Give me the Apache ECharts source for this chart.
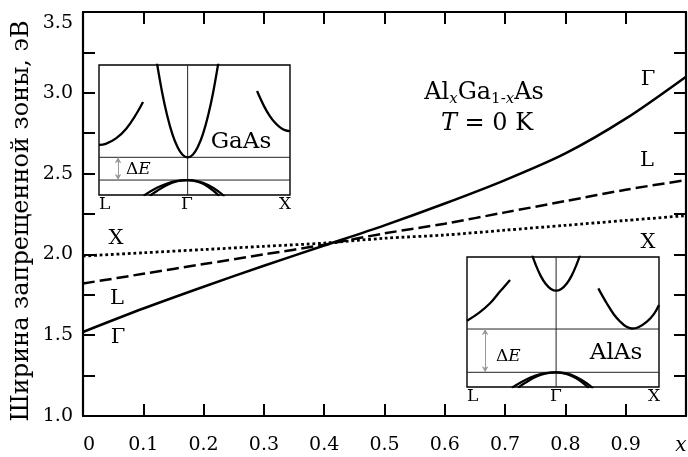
<!DOCTYPE html>
<html>
<head>
<meta charset="utf-8">
<script src="https://cdn.jsdelivr.net/npm/echarts@6/dist/echarts.min.js"></script>
<style>html,body{margin:0;padding:0;background:#fff}#c{width:688px;height:457px}</style>
</head>
<body>
<div id="c"></div>
<script>
// ---- main chart data ----
var xValues = [0, 0.1, 0.2, 0.3, 0.4, 0.5, 0.6, 0.7, 0.8, 0.9, 1.0];
var gammaGap = [1.52, 1.665, 1.80, 1.93, 2.055, 2.18, 2.315, 2.46, 2.625, 2.84, 3.10];
var lGap     = [1.82, 1.88, 1.94, 2.00, 2.06, 2.13, 2.19, 2.26, 2.33, 2.40, 2.46];
var xGap     = [1.99, 2.01, 2.03, 2.05, 2.07, 2.10, 2.12, 2.15, 2.18, 2.21, 2.24];
var yTickLabels = ['1.0', '1.5', '2.0', '2.5', '3.0', '3.5'];
var xTickLabels = ['0', '0.1', '0.2', '0.3', '0.4', '0.5', '0.6', '0.7', '0.8', '0.9', 'x'];
var yAxisTitle = 'Ширина запрещенной зоны, эВ';

// ---- inset GaAs band sketch: [k, E] ----
var gaasGamma = [[-0.31,10.64],[-0.25,7.93],[-0.2,6.12],[-0.15,4.71],[-0.1,3.71],[-0.05,3.10],[0,2.9],[0.05,3.10],[0.1,3.71],[0.15,4.71],[0.2,6.12],[0.25,7.93],[0.31,10.64]];
var gaasL = [[-0.866,3.85],[-0.8,3.93],[-0.7,4.35],[-0.6,5.1],[-0.5,6.25],[-0.436,7.15]];
var gaasX = [[0.678,8.0],[0.75,6.78],[0.8,6.11],[0.85,5.59],[0.9,5.22],[0.95,4.99],[1.0,4.92]];
var gaasHH = [[-0.43,-0.05],[-0.3,0.55],[-0.2,0.885],[-0.1,1.08],[0,1.15],[0.1,1.053],[0.2,0.764],[0.3,0.28],[0.36,-0.12]];
var gaasLH = [[-0.37,-0.06],[-0.3,0.31],[-0.2,0.78],[-0.1,1.06],[0,1.15],[0.1,1.02],[0.2,0.64],[0.31,-0.08]];
var gaasLevels = [1.15, 2.9];

// ---- inset AlAs band sketch: [k, E] ----
var alasGamma = [[-0.24,10.33],[-0.2,9.44],[-0.15,8.55],[-0.1,7.92],[-0.05,7.54],[0,7.41],[0.05,7.54],[0.1,7.92],[0.15,8.55],[0.2,9.44],[0.24,10.33]];
var alasL = [[-0.866,5.1],[-0.75,5.7],[-0.642,6.44],[-0.55,7.3],[-0.448,8.23]];
var alasX = [[0.41,7.59],[0.492,6.44],[0.56,5.6],[0.624,5.02],[0.68,4.65],[0.735,4.5],[0.8,4.6],[0.883,5.02],[0.95,5.6],[1.0,6.3]];
var alasHH = [[-0.43,-0.05],[-0.3,0.54],[-0.2,0.87],[-0.1,1.06],[0,1.13],[0.1,1.04],[0.2,0.75],[0.3,0.28],[0.36,-0.12]];
var alasLH = [[-0.37,-0.06],[-0.3,0.32],[-0.2,0.78],[-0.1,1.04],[0,1.13],[0.1,1.01],[0.2,0.65],[0.32,-0.08]];
var alasLevels = [1.13, 4.46];

var kL = -0.866, kX = 1.0;
var FONT = 'DejaVu Serif';

function pairs(xs, ys) { return xs.map(function (x, i) { return [x, ys[i]]; }); }

var chart = echarts.init(document.getElementById('c'), null, {renderer: 'canvas'});

var tickStyle = {show: true, inside: true, length: 12, lineStyle: {color: '#000', width: 2}};
var lineAx = {show: true, onZero: false, lineStyle: {color: '#000', width: 2.2}};

function xLab(v) {
  var i = Math.round(v * 10);
  var t = xTickLabels[i];
  if (t === undefined) return '';
  if (i === 0) return '{z|' + t + '}';
  if (i === 10) return '{it|' + t + '}';
  return t;
}
function yLab(v) {
  var i = Math.round((v - 1) * 4);
  if (i % 2 !== 0) return '';
  var t = yTickLabels[i / 2];
  if (i === 10) return '{top|' + t + '}';
  return t;
}

function insetAxisX(g) { return {gridIndex: g, type: 'value', min: kL, max: kX, show: false}; }
function insetAxisY(g) { return {gridIndex: g, type: 'value', min: 0, max: 10, show: false}; }

function band(idx, data) {
  return {type: 'line', xAxisIndex: idx, yAxisIndex: idx, data: data, smooth: 0.4, showSymbol: false,
    clip: true, silent: true, lineStyle: {color: '#000', width: 2.3}, z: 5};
}
function thin(idx, data) {
  return {type: 'line', xAxisIndex: idx, yAxisIndex: idx, data: data, showSymbol: false,
    clip: true, silent: true, lineStyle: {color: '#222', width: 1}, z: 4};
}
function arrow(idx, k, e0, e1) {
  return {type: 'line', xAxisIndex: idx, yAxisIndex: idx, data: [], silent: true,
    markLine: {silent: true, animation: false, symbol: ['arrow', 'arrow'], symbolSize: [5, 6],
      label: {show: false}, lineStyle: {color: '#999', width: 1, type: 'solid'},
      data: [[{coord: [k, e0]}, {coord: [k, e1]}]]}};
}

var series = [
  {name: 'Γ', type: 'line', xAxisIndex: 0, yAxisIndex: 0, data: pairs(xValues, gammaGap), smooth: 0.3, showSymbol: false,
    lineStyle: {color: '#000', width: 2.5}, z: 3},
  {name: 'L', type: 'line', xAxisIndex: 0, yAxisIndex: 0, data: pairs(xValues, lGap), smooth: 0.3, showSymbol: false,
    lineStyle: {color: '#000', width: 2.5, type: [12, 5]}, z: 3},
  {name: 'X', type: 'line', xAxisIndex: 0, yAxisIndex: 0, data: pairs(xValues, xGap), smooth: 0.3, showSymbol: false,
    lineStyle: {color: '#000', width: 2.8, type: [2.8, 2.8]}, z: 3},
  // GaAs inset (axis index 2)
  thin(2, [[kL, gaasLevels[0]], [kX, gaasLevels[0]]]),
  thin(2, [[kL, gaasLevels[1]], [kX, gaasLevels[1]]]),
  thin(2, [[0, 0], [0, 10]]),
  band(2, gaasGamma), band(2, gaasL), band(2, gaasX), band(2, gaasHH), band(2, gaasLH),
  arrow(2, -0.68, gaasLevels[0], gaasLevels[1]),
  // AlAs inset (axis index 3)
  thin(3, [[kL, alasLevels[0]], [kX, alasLevels[0]]]),
  thin(3, [[kL, alasLevels[1]], [kX, alasLevels[1]]]),
  thin(3, [[0, 0], [0, 10]]),
  band(3, alasGamma), band(3, alasL), band(3, alasX), band(3, alasHH), band(3, alasLH),
  arrow(3, -0.69, alasLevels[0], alasLevels[1])
];

var txt = function (x, y, text, size, align, rich) {
  var s = {text: text, x: x, y: y, fill: '#000', font: size + 'px "' + FONT + '"', align: align || 'center', verticalAlign: 'middle'};
  if (rich) s.rich = rich;
  return {type: 'text', z: 100, style: s};
};
var subRich = {
  n: {fontFamily: FONT, fontSize: 24, lineHeight: 28, verticalAlign: 'middle'},
  s: {fontFamily: FONT, fontSize: 15, lineHeight: 15, verticalAlign: 'bottom'},
  si: {fontFamily: FONT, fontSize: 15, lineHeight: 15, fontStyle: 'italic', verticalAlign: 'bottom'},
  i: {fontFamily: FONT, fontSize: 24, lineHeight: 28, fontStyle: 'italic'}
};
var deRich = {
  d: {fontFamily: FONT, fontSize: 17},
  e: {fontFamily: FONT, fontSize: 17, fontStyle: 'italic'}
};

var gridBase = {outerBoundsMode: 'none', containLabel: false};
function mkGrid(o) { return Object.assign({}, gridBase, o); }

var option = {
  animation: false,
  backgroundColor: '#fff',
  grid: [
    mkGrid({left: 83, top: 12, width: 603, height: 404, show: false}),
    mkGrid({left: 99, top: 65, width: 191, height: 130, show: true, borderColor: '#000', borderWidth: 1.4, backgroundColor: '#fff', z: 1}),
    mkGrid({left: 467, top: 257, width: 192, height: 130, show: true, borderColor: '#000', borderWidth: 1.4, backgroundColor: '#fff', z: 1})
  ],
  xAxis: [
    {gridIndex: 0, type: 'value', min: 0, max: 1, interval: 0.1, position: 'bottom', axisLine: lineAx, axisTick: tickStyle,
      splitLine: {show: false}, axisLabel: {show: true, showMinLabel: true, showMaxLabel: true, margin: 20, color: '#000',
        fontFamily: FONT, fontSize: 19, formatter: xLab,
        rich: {z: {fontFamily: FONT, fontSize: 19, padding: [0, 0, 0, 12]}, it: {fontFamily: FONT, fontSize: 20, fontStyle: 'italic', padding: [0, 10, 0, 0]}}}},
    {gridIndex: 0, type: 'value', min: 0, max: 1, interval: 0.1, position: 'top', axisLine: lineAx, axisTick: tickStyle,
      splitLine: {show: false}, axisLabel: {show: false}},
    insetAxisX(1), insetAxisX(2)
  ],
  yAxis: [
    {gridIndex: 0, type: 'value', min: 1, max: 3.5, interval: 0.25, position: 'left', axisLine: lineAx, axisTick: tickStyle,
      splitLine: {show: false},
      axisLabel: {show: true, showMinLabel: true, showMaxLabel: true, margin: 10, color: '#000', fontFamily: FONT, fontSize: 19,
        formatter: yLab, rich: {top: {fontFamily: FONT, fontSize: 19, padding: [22, 0, 0, 0]}}}},
    {gridIndex: 0, type: 'value', min: 1, max: 3.5, interval: 0.25, position: 'right', axisLine: lineAx, axisTick: tickStyle,
      splitLine: {show: false}, axisLabel: {show: false}},
    insetAxisY(1), insetAxisY(2)
  ],
  series: series,
  graphic: [
    // y axis title
    {type: 'text', z: 100, x: 22, y: 221, rotation: Math.PI / 2,
      style: {text: yAxisTitle, fill: '#000', font: '24px "' + FONT + '"', align: 'center', verticalAlign: 'middle'}},
    // branch labels on the main plot
    txt(116, 239, 'X', 21), txt(117, 299, 'L', 21), txt(118, 338, 'Γ', 21),
    txt(648, 80, 'Γ', 21), txt(647, 161, 'L', 21), txt(648, 243, 'X', 21),
    // alloy title
    txt(484, 93, '{n|Al}{si|x}{n|Ga}{s|1-}{si|x}{n|As}', 24, 'center', subRich),
    txt(487, 124, '{i|T}{n| = 0 K}', 24, 'center', subRich),
    // GaAs inset texts
    txt(241, 142, 'GaAs', 23),
    txt(126, 170, '{d|Δ}{e|E}', 17, 'left', deRich),
    txt(99, 205, 'L', 17, 'left'), txt(187, 205, 'Γ', 17), txt(291, 205, 'X', 17, 'right'),
    // AlAs inset texts
    txt(616, 353, 'AlAs', 23),
    txt(496, 357, '{d|Δ}{e|E}', 17, 'left', deRich),
    txt(467, 397, 'L', 17, 'left'), txt(556, 397, 'Γ', 17), txt(660, 397, 'X', 17, 'right')
  ]
};
chart.setOption(option);
</script>
</body>
</html>
